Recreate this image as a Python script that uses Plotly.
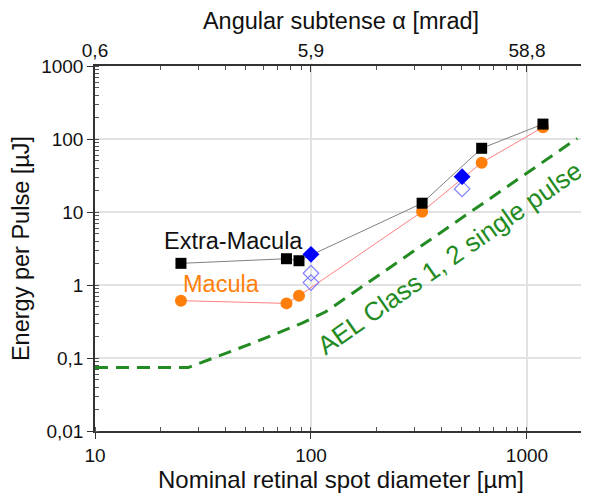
import plotly.graph_objects as go

# ---- data ----
diam_extra = [25, 77, 88, 327, 617, 1186]
energy_extra = [1.98, 2.29, 2.15, 13.2, 74.6, 160]

diam_macula = [25, 77, 88, 327, 617, 1186]
energy_macula = [0.61, 0.56, 0.71, 10.1, 47.4, 145]

diam_blue_filled = [100, 501]
energy_blue_filled = [2.63, 30.5]

diam_blue_open = [100, 100, 501]
energy_blue_open = [1.45, 1.08, 20.7]

diam_ael = [10, 27, 53.5, 91, 117, 484, 1710]
energy_ael = [0.074, 0.074, 0.159, 0.30, 0.43, 7.8, 102]

bottom_ticks = [10, 100, 1000]
bottom_ticktext = ["10", "100", "1000"]
top_ticktext = ["0,6", "5,9", "58,8"]
y_ticks = [0.01, 0.1, 1, 10, 100, 1000]
y_ticktext = ["0,01", "0,1", "1", "10", "100", "1000"]

FONT = "Liberation Sans, Arial, sans-serif"
GREEN = "#228B22"
ORANGE = "#FF7F0A"

fig = go.Figure()

fig.add_trace(go.Scatter(x=diam_ael, y=energy_ael, mode="lines",
                         line=dict(color=GREEN, width=3, dash="13px,8px"),
                         hoverinfo="skip", showlegend=False))
fig.add_trace(go.Scatter(x=diam_macula, y=energy_macula, mode="lines+markers",
                         line=dict(color="#FF8080", width=1),
                         marker=dict(symbol="circle", size=12, color=ORANGE),
                         showlegend=False))
fig.add_trace(go.Scatter(x=diam_extra, y=energy_extra, mode="lines+markers",
                         line=dict(color="#808080", width=1),
                         marker=dict(symbol="square", size=11, color="black"),
                         showlegend=False))
fig.add_trace(go.Scatter(x=diam_blue_open, y=energy_blue_open, mode="markers",
                         marker=dict(symbol="diamond-open", size=12, color="#8080FF",
                                     line=dict(width=1.2)),
                         showlegend=False))
fig.add_trace(go.Scatter(x=diam_blue_filled, y=energy_blue_filled, mode="markers",
                         marker=dict(symbol="diamond", size=13, color="#0000FF"),
                         showlegend=False))
# invisible trace for top axis
fig.add_trace(go.Scatter(x=bottom_ticks, y=[1, 1, 1], xaxis="x2", mode="markers",
                         marker=dict(opacity=0), hoverinfo="skip", showlegend=False))

fig.add_annotation(x=1.640, y=0.605, xref="x", yref="y", text="Extra-Macula",
                   showarrow=False, font=dict(family=FONT, size=23.5, color="#111"))
fig.add_annotation(x=1.587, y=0.018, xref="x", yref="y", text="Macula",
                   showarrow=False, font=dict(family=FONT, size=23.5, color=ORANGE))
fig.add_annotation(x=2.642, y=0.366, xref="x", yref="y",
                   text="AEL Class 1, 2 single pulse", textangle=-35,
                   showarrow=False, font=dict(family=FONT, size=26, color=GREEN))

axis_common = dict(type="log", showline=True, linecolor="#333", linewidth=1.5,
                   automargin=False,
                   tickfont=dict(family=FONT, size=19, color="#111"))
minor_common = dict(ticks="inside", ticklen=4, tickcolor="#555", showgrid=False, dtick="D1")

fig.update_layout(
    width=581, height=488,
    margin=dict(l=87, r=2, t=58, b=65),
    paper_bgcolor="white", plot_bgcolor="white",
    xaxis=dict(**axis_common, range=[1, 3.278],
               tickvals=bottom_ticks, ticktext=bottom_ticktext,
               ticks="outside", ticklen=6, tickcolor="#333",
               showgrid=True, gridcolor="#e2e2e2", gridwidth=1.5,
               minor=minor_common,
               mirror=False, zeroline=False,
               title=dict(text="Nominal retinal spot diameter [µm]",
                          font=dict(family=FONT, size=24, color="#111"), standoff=4)),
    xaxis2=dict(**axis_common, range=[1, 3.278], overlaying="x", side="top",
                tickvals=bottom_ticks, ticktext=top_ticktext,
                ticks="inside", ticklen=6, tickcolor="#333",
                showgrid=False, zeroline=False,
                minor=minor_common,
                title=dict(text="Angular subtense α [mrad]",
                           font=dict(family=FONT, size=23.5, color="#111"), standoff=4)),
    yaxis=dict(**axis_common, range=[-2, 3],
               tickvals=y_ticks, ticktext=y_ticktext,
               ticks="outside", ticklen=6, tickcolor="#333",
               showgrid=True, gridcolor="#e2e2e2", gridwidth=1.5,
               minor=minor_common,
               mirror="ticks", zeroline=False,
               title=dict(text="Energy per Pulse [µJ]",
                          font=dict(family=FONT, size=23.5, color="#111"), standoff=8)),
)

fig.write_html("out.html")
